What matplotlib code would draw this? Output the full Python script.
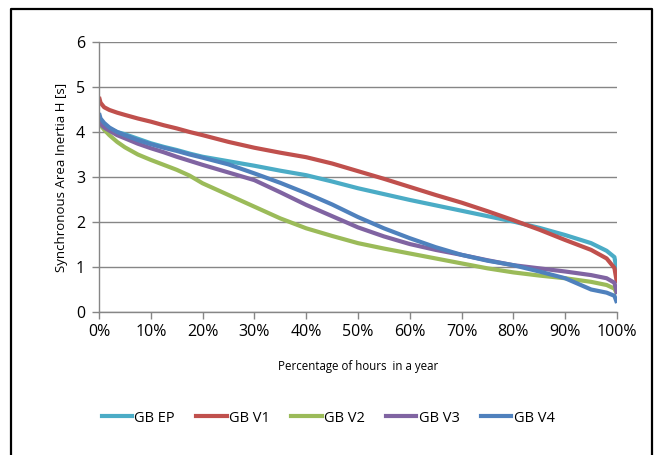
import matplotlib
matplotlib.use("Agg")
import matplotlib.pyplot as plt
from matplotlib.lines import Line2D
from matplotlib.ticker import FuncFormatter

plt.rcParams['font.family'] = ["Open Sans", "DejaVu Sans"]

# x positions (% of hours in a year)
x_pct = [0, 0.3, 1, 2, 3.5, 5, 7.5, 10, 12.5, 15, 17.5, 20, 25, 30, 35, 40, 45, 50, 55,
         60, 65, 70, 75, 80, 85, 90, 95, 98, 99.5, 100]

gb_ep = [4.35, 4.25, 4.15, 4.08, 4.0, 3.95, 3.85, 3.75, 3.67, 3.6, 3.52, 3.45, 3.35, 3.25,
         3.14, 3.04, 2.9, 2.75, 2.62, 2.49, 2.37, 2.25, 2.13, 2.01, 1.87, 1.71, 1.53, 1.36,
         1.22, 0.9]
gb_v1 = [4.78, 4.65, 4.55, 4.49, 4.43, 4.38, 4.3, 4.23, 4.15, 4.08, 4.0, 3.93, 3.78, 3.65,
         3.54, 3.44, 3.3, 3.13, 2.96, 2.78, 2.6, 2.43, 2.24, 2.04, 1.83, 1.6, 1.38, 1.19,
         0.98, 0.64]
gb_v2 = [4.25, 4.15, 4.05, 3.93, 3.78, 3.66, 3.5, 3.38, 3.27, 3.16, 3.03, 2.86, 2.6, 2.34,
         2.08, 1.86, 1.69, 1.53, 1.41, 1.3, 1.19, 1.08, 0.97, 0.88, 0.81, 0.75, 0.67, 0.6,
         0.52, 0.4]
gb_v3 = [4.25, 4.18, 4.1, 4.03, 3.93, 3.86, 3.74, 3.64, 3.55, 3.45, 3.36, 3.27, 3.1, 2.93,
         2.66, 2.38, 2.13, 1.88, 1.68, 1.51, 1.38, 1.27, 1.15, 1.04, 0.97, 0.9, 0.82, 0.75,
         0.65, 0.4]
gb_v4 = [4.42, 4.3, 4.2, 4.1, 4.0, 3.93, 3.82, 3.73, 3.65, 3.58, 3.5, 3.43, 3.28, 3.08,
         2.87, 2.64, 2.39, 2.11, 1.86, 1.64, 1.44, 1.27, 1.14, 1.04, 0.9, 0.75, 0.5, 0.43,
         0.36, 0.2]

series = [("GB EP", gb_ep, "#4BACC6"), ("GB V1", gb_v1, "#C0504D"),
          ("GB V2", gb_v2, "#9BBB59"), ("GB V3", gb_v3, "#8064A2"),
          ("GB V4", gb_v4, "#4F81BD")]

x_ticks = [0, 10, 20, 30, 40, 50, 60, 70, 80, 90, 100]
y_ticks = [0, 1, 2, 3, 4, 5, 6]

W, H = 658, 455
fig = plt.figure(figsize=(W / 100, H / 100), dpi=100)
ax = fig.add_axes([99 / W, 1 - 312 / H, (617 - 99) / W, (312 - 42) / H])

for name, vals, col in series:
    ax.plot(x_pct, vals, color=col, lw=3, label=name, solid_capstyle='butt',
            solid_joinstyle='round')

ax.set_xlim(0, 100)
ax.set_ylim(0, 6)
ax.set_xticks(x_ticks)
ax.set_yticks(y_ticks)
ax.xaxis.set_major_formatter(FuncFormatter(lambda v, p: f"{int(v)}%"))
ax.yaxis.grid(True, color="#868686", lw=1)
ax.set_axisbelow(True)
for s in ["top", "right"]:
    ax.spines[s].set_visible(False)
for s in ["left", "bottom"]:
    ax.spines[s].set_color("#868686")
    ax.spines[s].set_linewidth(1)
ax.tick_params(axis='both', colors="#868686", length=5, width=1, labelsize=11.5,
               labelcolor="black")
ax.tick_params(axis='y', pad=5)
ax.tick_params(axis='x', pad=4)
ax.set_ylabel("Synchronous Area Inertia H [s]", fontsize=9.5, labelpad=6)
ax.set_xlabel("Percentage of hours  in a year", fontsize=8.3, labelpad=14)

handles = [Line2D([0], [0], color=c, lw=3) for _, _, c in series]
fig.legend(handles, [n for n, _, _ in series], loc='center', ncol=5,
           bbox_to_anchor=(328 / W, 1 - 418 / H), frameon=False, fontsize=10.5,
           handlelength=2.1, handletextpad=0.15, columnspacing=1.45)

# outer frame (bottom edge lies outside the image)
fig.add_artist(Line2D([11 / W, 11 / W, 652 / W, 652 / W],
                      [-0.05, 1 - 9 / H, 1 - 9 / H, -0.05],
                      transform=fig.transFigure, color="black", lw=1.6))

fig.savefig("out.png", dpi=100)
